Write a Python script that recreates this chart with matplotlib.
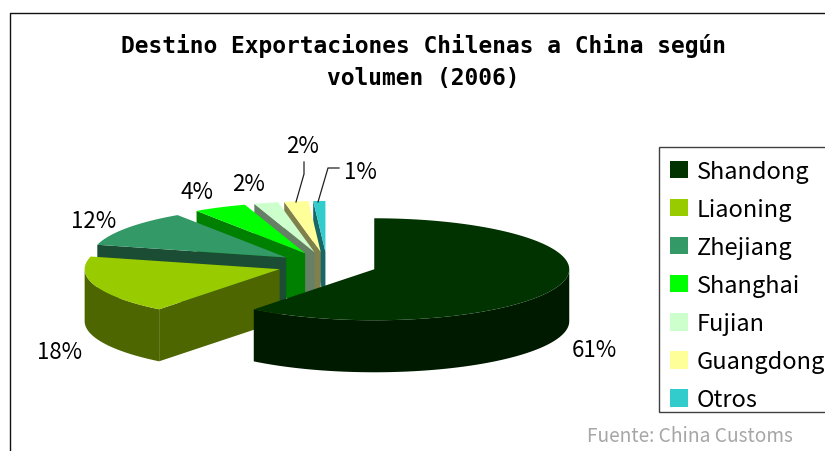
import numpy as np
import matplotlib
matplotlib.use("Agg")
import matplotlib.pyplot as plt
from matplotlib.patches import Patch, Polygon, Rectangle

# Data
regions = ["Shandong", "Liaoning", "Zhejiang", "Shanghai", "Fujian", "Guangdong", "Otros"]
shares = [60.6, 18.4, 11.6, 4.4, 2.0, 2.0, 1.0]
top_colors = ["#003300", "#99CC00", "#339966", "#00FF00", "#CCFFCC", "#FFFF99", "#33CCCC"]
side_colors = ["#001A00", "#4D6600", "#1A4D33", "#008000", "#668066", "#80804D", "#1A6666"]
title_text = "Destino Exportaciones Chilenas a China según\nvolumen (2006)"
source_text = "Fuente: China Customs"

# Layout (pixel-based axes)
W, H = 825, 452
CX, CY = 327, 266
RX, RY = 195, 51
DEPTH = 52
EXPLODE = 50
label_xy = [(594, 351), (60, 353), (94, 222), (197, 193), (249, 185), (303, 147), (360, 173)]

fig = plt.figure(figsize=(W / 100, H / 100), dpi=100)
ax = fig.add_axes([0, 0, 1, 1])
ax.set_xlim(0, W)
ax.set_ylim(H, 0)
ax.axis("off")

# Chart frame (runs off the right and bottom of the image)
ax.plot([9.5, 9.5, W + 5], [H + 5, 13.5, 13.5], color="#111111", lw=1.0, clip_on=False)

# Slices
total = sum(shares)
edges = np.concatenate([[0], np.cumsum(shares)]) / total * 2 * np.pi
slices = []
for i in range(len(shares)):
    a0, a1 = edges[i], edges[i + 1]
    mid = (a0 + a1) / 2
    ax_c = CX + EXPLODE * np.sin(mid)
    ay_c = CY - EXPLODE * np.cos(mid) * RY / RX
    t = np.linspace(a0, a1, 120)
    slices.append((i, a0, a1, ax_c, ay_c,
                   ax_c + RX * np.sin(t), ay_c - RY * np.cos(t)))

# Painted back to front: last region first, Shandong on top
for i, a0, a1, ac, yc, xs, ys in reversed(slices):
    # outer rim: only the front-facing part of the arc (90 to 270 degrees)
    r0, r1 = max(a0, np.pi / 2), min(a1, 3 * np.pi / 2)
    if r1 > r0:
        t = np.linspace(r0, r1, 120)
        rx_, ry_ = ac + RX * np.sin(t), yc - RY * np.cos(t)
        ax.add_patch(Polygon(np.column_stack([np.r_[rx_, rx_[::-1]], np.r_[ry_, ry_[::-1] + DEPTH]]),
                             closed=True, fc=side_colors[i], ec="none", zorder=2 + (7 - i) * 3))
    # cut face at the slice's starting edge
    if i > 0:
        px = [ac, xs[0], xs[0], ac]
        py = [yc, ys[0], ys[0] + DEPTH, yc + DEPTH]
        ax.add_patch(Polygon(np.column_stack([px, py]), closed=True,
                             fc=side_colors[i], ec="none", zorder=3 + (7 - i) * 3))
    # top face
    ax.add_patch(Polygon(np.column_stack([np.r_[ac, xs], np.r_[yc, ys]]), closed=True,
                         fc=top_colors[i], ec="none", zorder=4 + (7 - i) * 3))

# Leader lines
ax.plot([304, 304, 296], [163, 175, 203], color="#222222", lw=0.9, zorder=40)
ax.plot([339, 328, 318], [169, 169, 203], color="#222222", lw=0.9, zorder=40)

# Percent labels
label_font = ["Noto Sans CJK JP", "DejaVu Sans"]
for v, (lx, ly) in zip(shares, label_xy):
    ax.text(lx, ly, f"{v:.0f}%", ha="center", va="center", fontsize=16,
            family=label_font, color="black", zorder=41)

# Title
ax.text(423.5, 61.5, title_text, ha="center", va="center", fontsize=16.5, linespacing=1.5,
        family="DejaVu Sans Mono", fontweight="bold", color="black")

# Legend: box drawn separately so its padding can be uneven, as in the reference
ax.add_patch(Rectangle((658.8, 147.5), 180, 265.5, fc="white", ec="#404040", lw=1.0, zorder=45))
handles = [Patch(fc=c, ec="none", label=r) for c, r in zip(top_colors, regions)]
fs = 17
leg = ax.legend(handles=handles, loc="upper left", bbox_to_anchor=(659, 150),
                bbox_transform=ax.transData, prop={"family": label_font, "size": fs},
                frameon=False, borderaxespad=0, borderpad=0.45, labelspacing=0.64,
                handlelength=0.76, handleheight=0.76, handletextpad=0.38)
leg.set_zorder(46)

# Source
ax.text(690, 437, source_text, ha="center", va="center", fontsize=13.8,
        family=label_font, color="#A6A6A6")

fig.savefig("out.png", dpi=100)
